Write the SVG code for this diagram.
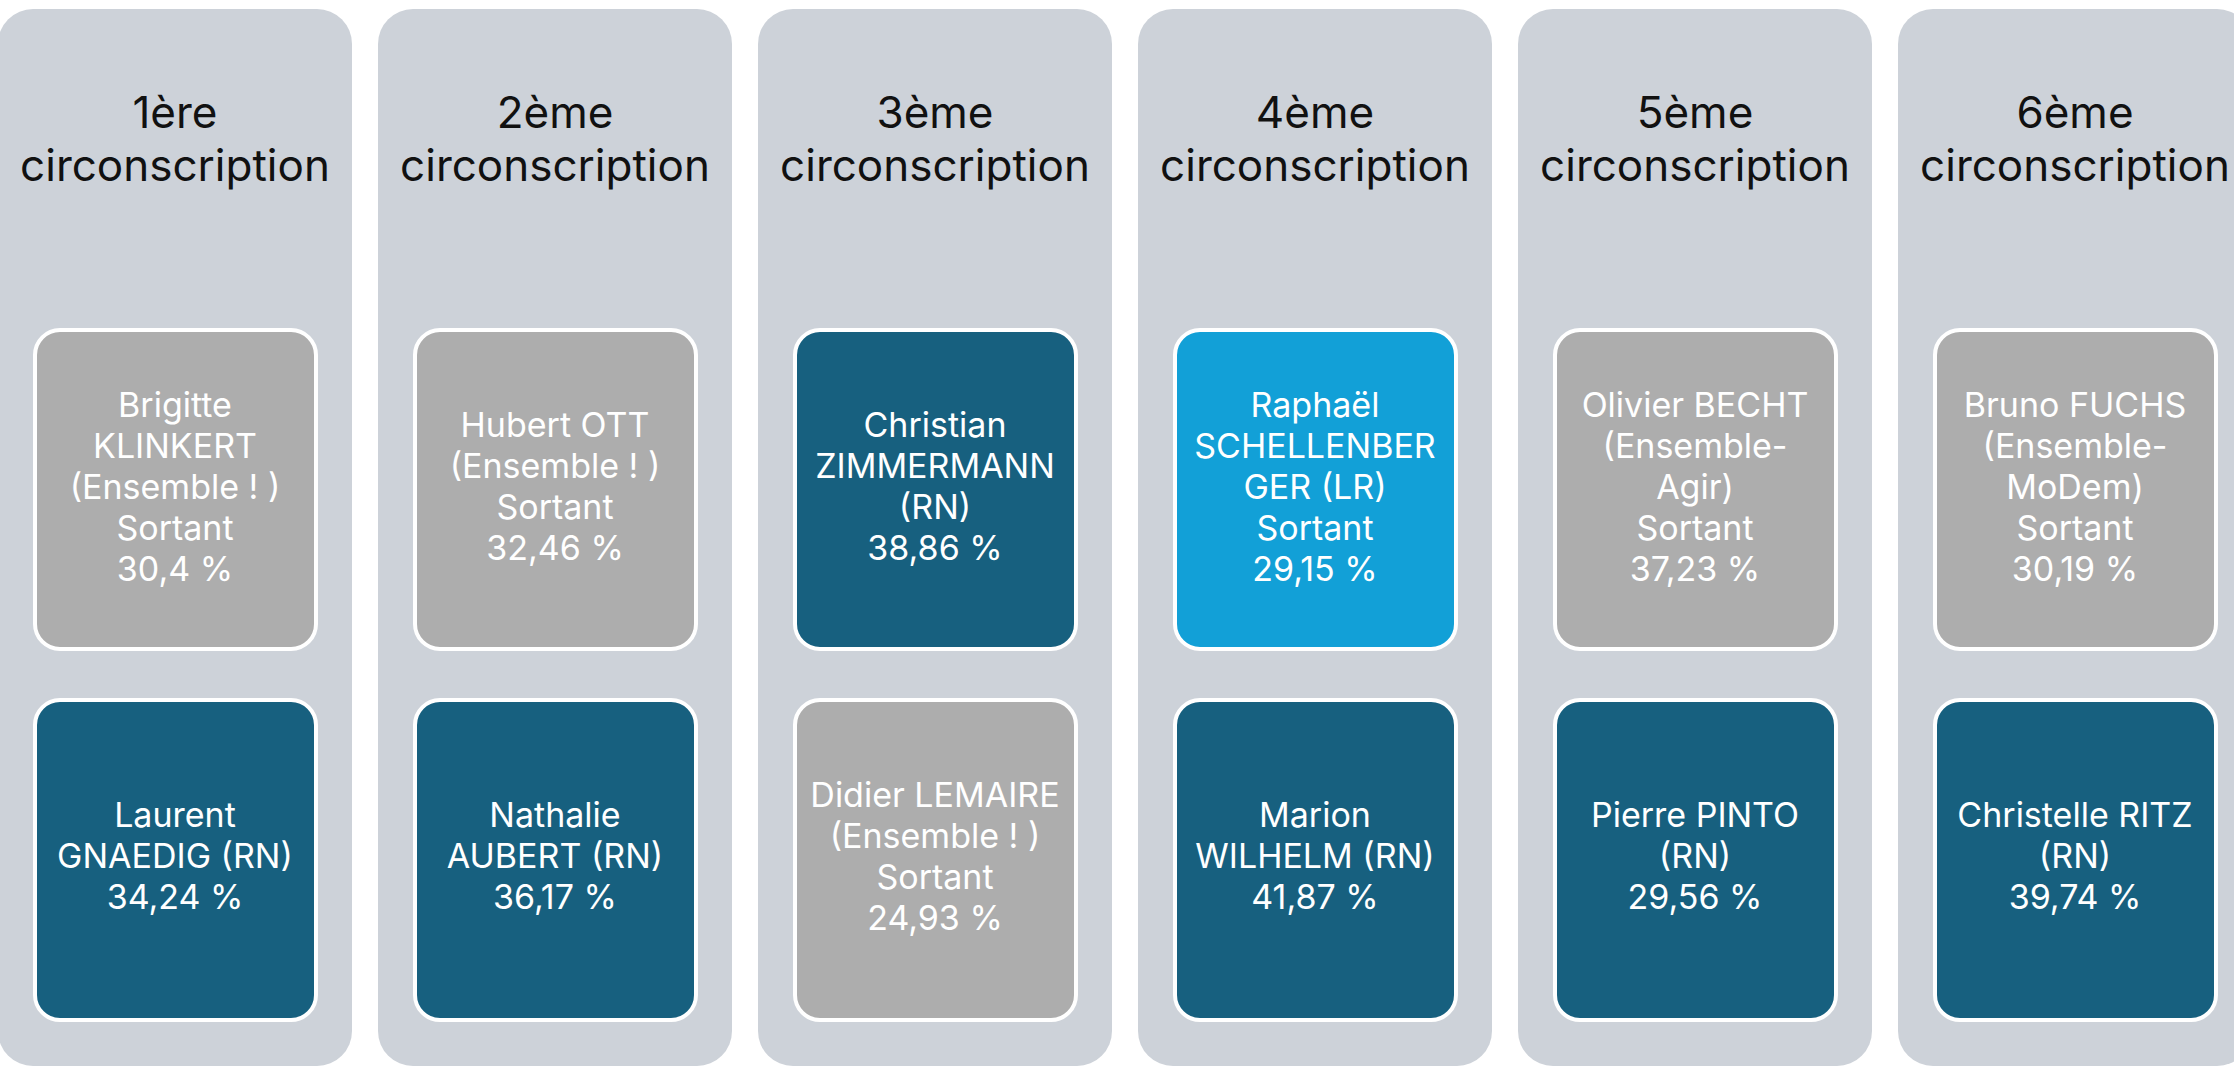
<svg xmlns="http://www.w3.org/2000/svg" width="2234" height="1068" viewBox="0 0 2234 1068">
<style>
.col{fill:#CDD2D9}
.box{stroke:#FFFFFF;stroke-width:4}
.gray{fill:#ADADAD}
.dark{fill:#17607F}
.light{fill:#12A0D7}
.hdr{font-family:Inter,"Open Sans","Liberation Sans",sans-serif;font-size:44px;fill:#111111;text-anchor:middle}
.lbl{font-family:Inter,"Open Sans","Liberation Sans",sans-serif;font-size:34px;fill:#FFFFFF;text-anchor:middle}
</style>
<rect width="2234" height="1068" fill="#FFFFFF"/>
<g id="col1">
<rect class="col" x="-2" y="9" width="354" height="1057" rx="35"/>
<text class="hdr" x="175" y="128">1ère</text>
<text class="hdr" x="175" y="181">circonscription</text>
<g id="c1-top"><rect class="box gray" x="35" y="330" width="281" height="319" rx="25"/>
<text class="lbl" x="175"><tspan x="175" y="417">Brigitte</tspan><tspan x="175" y="458">KLINKERT</tspan><tspan x="175" y="499">(Ensemble ! )</tspan><tspan x="175" y="540">Sortant</tspan><tspan x="175" y="581">30,4 %</tspan></text></g>
<g id="c1-bot"><rect class="box dark" x="35" y="700" width="281" height="320" rx="25"/>
<text class="lbl"><tspan x="175" y="827">Laurent</tspan><tspan x="175" y="868">GNAEDIG (RN)</tspan><tspan x="175" y="909">34,24 %</tspan></text></g>
</g>
<g id="col2">
<rect class="col" x="378" y="9" width="354" height="1057" rx="35"/>
<text class="hdr" x="555" y="128">2ème</text>
<text class="hdr" x="555" y="181">circonscription</text>
<g id="c2-top"><rect class="box gray" x="415" y="330" width="281" height="319" rx="25"/>
<text class="lbl"><tspan x="555" y="437">Hubert OTT</tspan><tspan x="555" y="478">(Ensemble ! )</tspan><tspan x="555" y="519">Sortant</tspan><tspan x="555" y="560">32,46 %</tspan></text></g>
<g id="c2-bot"><rect class="box dark" x="415" y="700" width="281" height="320" rx="25"/>
<text class="lbl"><tspan x="555" y="827">Nathalie</tspan><tspan x="555" y="868">AUBERT (RN)</tspan><tspan x="555" y="909">36,17 %</tspan></text></g>
</g>
<g id="col3">
<rect class="col" x="758" y="9" width="354" height="1057" rx="35"/>
<text class="hdr" x="935" y="128">3ème</text>
<text class="hdr" x="935" y="181">circonscription</text>
<g id="c3-top"><rect class="box dark" x="795" y="330" width="281" height="319" rx="25"/>
<text class="lbl"><tspan x="935" y="437">Christian</tspan><tspan x="935" y="478">ZIMMERMANN</tspan><tspan x="935" y="519">(RN)</tspan><tspan x="935" y="560">38,86 %</tspan></text></g>
<g id="c3-bot"><rect class="box gray" x="795" y="700" width="281" height="320" rx="25"/>
<text class="lbl"><tspan x="935" y="807">Didier LEMAIRE</tspan><tspan x="935" y="848">(Ensemble ! )</tspan><tspan x="935" y="889">Sortant</tspan><tspan x="935" y="930">24,93 %</tspan></text></g>
</g>
<g id="col4">
<rect class="col" x="1138" y="9" width="354" height="1057" rx="35"/>
<text class="hdr" x="1315" y="128">4ème</text>
<text class="hdr" x="1315" y="181">circonscription</text>
<g id="c4-top"><rect class="box light" x="1175" y="330" width="281" height="319" rx="25"/>
<text class="lbl"><tspan x="1315" y="417">Raphaël</tspan><tspan x="1315" y="458">SCHELLENBER</tspan><tspan x="1315" y="499">GER (LR)</tspan><tspan x="1315" y="540">Sortant</tspan><tspan x="1315" y="581">29,15 %</tspan></text></g>
<g id="c4-bot"><rect class="box dark" x="1175" y="700" width="281" height="320" rx="25"/>
<text class="lbl"><tspan x="1315" y="827">Marion</tspan><tspan x="1315" y="868">WILHELM (RN)</tspan><tspan x="1315" y="909">41,87 %</tspan></text></g>
</g>
<g id="col5">
<rect class="col" x="1518" y="9" width="354" height="1057" rx="35"/>
<text class="hdr" x="1695" y="128">5ème</text>
<text class="hdr" x="1695" y="181">circonscription</text>
<g id="c5-top"><rect class="box gray" x="1555" y="330" width="281" height="319" rx="25"/>
<text class="lbl"><tspan x="1695" y="417">Olivier BECHT</tspan><tspan x="1695" y="458">(Ensemble-</tspan><tspan x="1695" y="499">Agir)</tspan><tspan x="1695" y="540">Sortant</tspan><tspan x="1695" y="581">37,23 %</tspan></text></g>
<g id="c5-bot"><rect class="box dark" x="1555" y="700" width="281" height="320" rx="25"/>
<text class="lbl"><tspan x="1695" y="827">Pierre PINTO</tspan><tspan x="1695" y="868">(RN)</tspan><tspan x="1695" y="909">29,56 %</tspan></text></g>
</g>
<g id="col6">
<rect class="col" x="1898" y="9" width="354" height="1057" rx="35"/>
<text class="hdr" x="2075" y="128">6ème</text>
<text class="hdr" x="2075" y="181">circonscription</text>
<g id="c6-top"><rect class="box gray" x="1935" y="330" width="281" height="319" rx="25"/>
<text class="lbl"><tspan x="2075" y="417">Bruno FUCHS</tspan><tspan x="2075" y="458">(Ensemble-</tspan><tspan x="2075" y="499">MoDem)</tspan><tspan x="2075" y="540">Sortant</tspan><tspan x="2075" y="581">30,19 %</tspan></text></g>
<g id="c6-bot"><rect class="box dark" x="1935" y="700" width="281" height="320" rx="25"/>
<text class="lbl"><tspan x="2075" y="827">Christelle RITZ</tspan><tspan x="2075" y="868">(RN)</tspan><tspan x="2075" y="909">39,74 %</tspan></text></g>
</g>
<g id="connectors"/>
</svg>
